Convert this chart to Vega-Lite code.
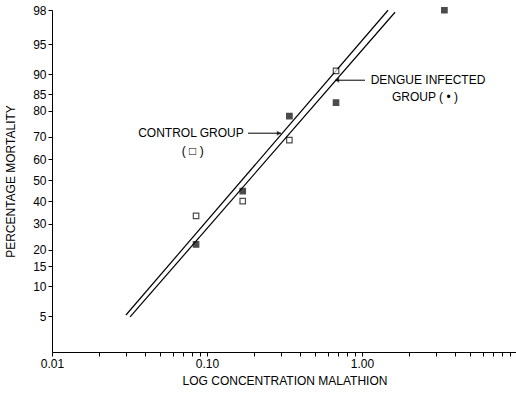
{
  "$schema": "https://vega.github.io/schema/vega-lite/v6.json",
  "autosize": "none",
  "padding": {"left": 52, "top": 10, "right": 0, "bottom": 43},
  "width": 465,
  "height": 342,
  "background": "white",
  "config": {
    "view": {"stroke": null},
    "font": "Liberation Sans",
    "axis": {"grid": false, "domainColor": "black", "tickColor": "black", "labelColor": "black", "titleColor": "black", "labelFont": "Liberation Sans", "titleFont": "Liberation Sans", "labelFontSize": 12, "titleFontSize": 12, "titleFontWeight": "normal", "tickSize": 4, "labelPadding": 2}
  },
  "datasets": {
    "points": [
      {"group": "Dengue infected", "conc": 0.085, "pct": 21.9, "probit": -0.775},
      {"group": "Dengue infected", "conc": 0.17, "pct": 44.8, "probit": -0.132},
      {"group": "Dengue infected", "conc": 0.34, "pct": 78.0, "probit": 0.774},
      {"group": "Dengue infected", "conc": 0.68, "pct": 82.6, "probit": 0.937},
      {"group": "Dengue infected", "conc": 3.4, "pct": 98.0, "probit": 2.053},
      {"group": "Control", "conc": 0.085, "pct": 33.4, "probit": -0.43},
      {"group": "Control", "conc": 0.17, "pct": 40.0, "probit": -0.252},
      {"group": "Control", "conc": 0.34, "pct": 68.6, "probit": 0.484},
      {"group": "Control", "conc": 0.68, "pct": 90.7, "probit": 1.32}
    ],
    "fits": [
      {"line": "Control", "conc": 0.03, "probit": -1.628},
      {"line": "Control", "conc": 1.472, "probit": 2.053},
      {"line": "Dengue infected", "conc": 0.0319, "probit": -1.652},
      {"line": "Dengue infected", "conc": 1.633, "probit": 2.029}
    ],
    "labels": [
      {"text": "CONTROL GROUP", "conc": 0.0788, "probit": 0.568},
      {"text": "( □ )", "conc": 0.0809, "probit": 0.355},
      {"text": "DENGUE INFECTED", "conc": 2.667, "probit": 1.208},
      {"text": "GROUP ( • )", "conc": 2.548, "probit": 1.003}
    ],
    "arrows": [
      {"arrow": "Control", "x1": 0.184, "x2": 0.3, "probit": 0.568},
      {"arrow": "Dengue", "x1": 0.67, "x2": 1.045, "probit": 1.208}
    ],
    "heads": [
      {"arrow": "Control", "conc": 0.2914, "probit": 0.568, "dir": "triangle-right"},
      {"arrow": "Dengue", "conc": 0.69, "probit": 1.208, "dir": "triangle-left"}
    ]
  },
  "layer": [
    {
      "data": {"name": "fits"},
      "mark": {"type": "line", "color": "black", "strokeWidth": 1.2},
      "encoding": {
        "x": {"field": "conc", "type": "quantitative", "scale": {"type": "log", "domain": [0.01, 10], "nice": false},
          "axis": {"title": "LOG CONCENTRATION MALATHION", "titlePadding": 6, "tickCount": 40, "values": [0.01,0.02,0.03,0.04,0.05,0.06,0.07,0.08,0.09,0.1,0.2,0.3,0.4,0.5,0.6,0.7,0.8,0.9,1,2,3,4,5,6,7,8,9], "labelExpr": "datum.value == 0.01 || datum.value == 0.1 || datum.value == 1 ? format(datum.value, '.2f') : ''", "labelOverlap": false, "labelFlush": false}},
        "y": {"field": "probit", "type": "quantitative", "scale": {"domain": [-2.075, 2.056], "nice": false, "zero": false},
          "axis": {"title": "PERCENTAGE MORTALITY", "titlePadding": 15, "tickCount": 30, "values": [-1.6449,-1.2816,-1.0364,-0.8416,-0.5244,-0.2533,0,0.2533,0.5244,0.8416,1.0364,1.2816,1.6449,2.0537], "labelExpr": "format(cumulativeNormal(datum.value) * 100, '.0f')", "labelOverlap": false, "labelFlush": false}},
        "detail": {"field": "line"}
      }
    },
    {
      "data": {"name": "points"},
      "mark": {"type": "point", "shape": "square", "size": 30, "strokeWidth": 1.2, "stroke": "black"},
      "encoding": {
        "x": {"field": "conc", "type": "quantitative"},
        "y": {"field": "probit", "type": "quantitative"},
        "fill": {"field": "group", "type": "nominal", "scale": {"domain": ["Control", "Dengue infected"], "range": ["white", "black"]}, "legend": null},
        "fillOpacity": {"value": 1}
      }
    },
    {
      "data": {"name": "arrows"},
      "mark": {"type": "rule", "color": "black", "strokeWidth": 1},
      "encoding": {
        "x": {"field": "x1", "type": "quantitative"},
        "x2": {"field": "x2"},
        "y": {"field": "probit", "type": "quantitative"}
      }
    },
    {
      "data": {"name": "heads"},
      "mark": {"type": "point", "filled": true, "color": "black", "size": 25},
      "encoding": {
        "x": {"field": "conc", "type": "quantitative"},
        "y": {"field": "probit", "type": "quantitative"},
        "shape": {"field": "dir", "type": "nominal", "scale": {"domain": ["triangle-right", "triangle-left"], "range": ["triangle-right", "triangle-left"]}, "legend": null}
      }
    },
    {
      "data": {"name": "labels"},
      "mark": {"type": "text", "font": "Liberation Sans", "fontSize": 12, "color": "black", "baseline": "middle", "align": "center"},
      "encoding": {
        "x": {"field": "conc", "type": "quantitative"},
        "y": {"field": "probit", "type": "quantitative"},
        "text": {"field": "text"}
      }
    }
  ]
}
